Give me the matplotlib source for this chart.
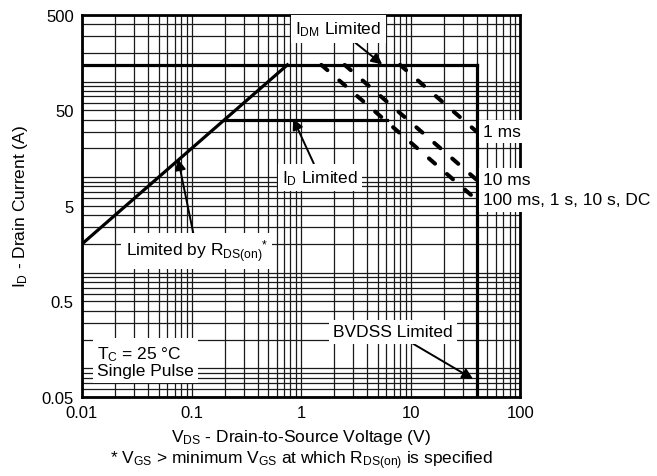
import matplotlib
matplotlib.use('Agg')
import matplotlib.pyplot as plt
from matplotlib.ticker import FixedLocator, FixedFormatter, LogLocator, NullFormatter

plt.rcParams['font.family'] = ['Liberation Sans', 'DejaVu Sans']
plt.rcParams['mathtext.fontset'] = 'custom'
plt.rcParams['mathtext.rm'] = 'Liberation Sans'
plt.rcParams['mathtext.default'] = 'regular'

# limit lines (V, A)
rds_v = [0.01, 0.75]
rds_i = [2.0, 150]
idm_v = [0.01, 40]
idm_i = [150, 150]
id_v = [0.2, 6.1]
id_i = [40, 40]
bv_v = [40, 40]
bv_i = [0.05, 150]

# pulse lines: start on I_DM, end on BVDSS
pulse_names = ["1 ms", "10 ms", "100 ms, 1 s, 10 s, DC"]
pulse_v = [[8.0, 40], [2.5, 40], [1.53, 40]]
pulse_i = [[150, 30], [150, 9.4], [150, 5.8]]

x_ticks = [0.01, 0.1, 1, 10, 100]
x_labels = ["0.01", "0.1", "1", "10", "100"]
y_ticks = [0.05, 0.5, 5, 50, 500]
y_labels = ["0.05", "0.5", "5", "50", "500"]

fig = plt.figure(figsize=(6.57, 4.77), dpi=100)
ax = fig.add_axes([0.1248, 0.1656, 0.667, 0.801])
ax.set_xscale('log')
ax.set_yscale('log')
ax.set_xlim(0.01, 100)
ax.set_ylim(0.05, 500)

ax.xaxis.set_major_locator(FixedLocator(x_ticks))
ax.xaxis.set_major_formatter(FixedFormatter(x_labels))
ax.yaxis.set_major_locator(FixedLocator(y_ticks))
ax.yaxis.set_major_formatter(FixedFormatter(y_labels))
ax.xaxis.set_minor_locator(LogLocator(base=10, subs=range(1, 10), numticks=50))
ax.yaxis.set_minor_locator(LogLocator(base=10, subs=range(1, 10), numticks=50))
ax.xaxis.set_minor_formatter(NullFormatter())
ax.yaxis.set_minor_formatter(NullFormatter())
ax.tick_params(which='both', length=0, labelsize=12, pad=6)
ax.grid(which='both', color='#1a1a1a', lw=0.9)
for s in ax.spines.values():
    s.set_linewidth(2)

lw = 2.3
ax.plot(rds_v, rds_i, color='black', lw=lw)
ax.plot(idm_v, idm_i, color='black', lw=lw)
ax.plot(id_v, id_i, color='black', lw=lw)
ax.plot(bv_v, bv_i, color='black', lw=lw)
for v, i in zip(pulse_v, pulse_i):
    ax.plot(v, i, color='black', lw=2.9, dashes=(2.0, 3.9), dash_capstyle='round')

box = dict(boxstyle='square,pad=0.25', fc='white', ec='none')
arr = dict(arrowstyle='-|>', color='black', lw=1.4, mutation_scale=16, shrinkA=0, shrinkB=0)
fs = 12.5

ax.annotate(r"I$_{DM}$ Limited", xy=(5.5, 152), xytext=(2.18, 356),
            ha='center', va='center', fontsize=fs, bbox=box, arrowprops=arr)
ax.annotate(r"I$_{D}$ Limited", xy=(0.845, 41), xytext=(1.49, 10),
            ha='center', va='center', fontsize=fs, bbox=box, arrowprops=arr)
ax.annotate(r"Limited by R$_{DS(on)}$$^{*}$", xy=(0.0753, 15.5), xytext=(0.112, 1.69),
            ha='center', va='center', fontsize=fs, bbox=box, arrowprops=arr)
ax.annotate("BVDSS Limited", xy=(37.2, 0.077), xytext=(6.9, 0.24),
            ha='center', va='center', fontsize=fs, bbox=box, arrowprops=arr)
ax.text(0.0137, 0.119, "T$_{C}$ = 25 °C\nSingle Pulse", ha='left', va='center',
        fontsize=fs, bbox=box, linespacing=1.05)

for name, i in zip(pulse_names, [i[-1] for i in pulse_i]):
    ax.text(45.9, i, name, ha='left', va='center', fontsize=fs, bbox=box, clip_on=False)

ax.set_xlabel("V$_{DS}$ - Drain-to-Source Voltage (V)\n"
              "* V$_{GS}$ > minimum V$_{GS}$ at which R$_{DS(on)}$ is specified",
              fontsize=12.5, labelpad=5, linespacing=1.15)
ax.set_ylabel("I$_{D}$ - Drain Current (A)", fontsize=12.5, labelpad=8)

fig.savefig('out.png', dpi=100)
